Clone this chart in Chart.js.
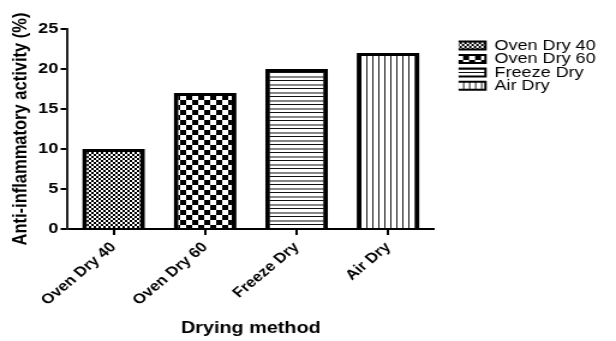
<!DOCTYPE html>
<html><head><meta charset="utf-8">
<script src="https://cdn.jsdelivr.net/npm/chart.js@4/dist/chart.umd.min.js"></script>
<style>
html,body{margin:0;padding:0;background:#fff;overflow:hidden}
#wrap{width:616px;height:341px;overflow:hidden}
#c{transform:scaleX(1.2008);transform-origin:0 0;display:block}
</style>
</head><body><div id="wrap"><canvas id="c" width="513" height="341"></canvas></div>
<script>
const categories = ["Oven Dry 40", "Oven Dry 60", "Freeze Dry", "Air Dry"];
const values = [10, 17, 20, 22];
const yTicks = [0, 5, 10, 15, 20, 25];
const xTitle = "Drying method";
const yTitle = "Anti-inflammatory activity (%)";

const FONT = "'Liberation Sans', Arial, sans-serif";
const LEGEND_GAP = 19;

function makePattern(kind) {
  const t = document.createElement('canvas');
  const g = t.getContext('2d');
  if (kind === 0) {
    t.width = 4; t.height = 4;
    g.fillStyle = '#fff'; g.fillRect(0,0,4,4);
    g.fillStyle = '#000'; g.fillRect(0,0,2,2); g.fillRect(2,2,2,2);
  } else if (kind === 1) {
    t.width = 10; t.height = 10;
    g.fillStyle = '#fff'; g.fillRect(0,0,10,10);
    g.fillStyle = '#000'; g.fillRect(0,0,5,5); g.fillRect(5,5,5,5);
  } else if (kind === 2) {
    t.width = 8; t.height = 8;
    g.fillStyle = '#fff'; g.fillRect(0,0,8,8);
    g.fillStyle = '#111'; g.fillRect(0,0,8,1);
    g.fillStyle = '#888'; g.fillRect(0,4,8,2);
  } else {
    t.width = 5; t.height = 5;
    g.fillStyle = '#fff'; g.fillRect(0,0,5,5);
    g.fillStyle = '#222'; g.fillRect(0,0,1,5);
  }
  return document.getElementById('c').getContext('2d').createPattern(t, 'repeat');
}
const patterns = categories.map((_, i) => makePattern(i));

// Give the legend a gap from the plot area and let it take its natural width
const legendGapPlugin = {
  id: 'legendGap',
  beforeLayout(chart) {
    const lg = chart.legend;
    if (!lg || lg._gapPatched) return;
    lg._gapPatched = true;
    const origFit = lg.fit.bind(lg);
    lg.fit = function () {
      origFit();
      const ctx = this.ctx;
      const f = this.options.labels.font;
      ctx.save();
      ctx.font = `${f.size}px ${f.family}`;
      const tw = Math.max(...this.legendItems.map(it => ctx.measureText(it.text).width));
      ctx.restore();
      this.width = LEGEND_GAP + this.options.labels.boxWidth + f.size / 2 + tw + 2;
    };
    const origDraw = lg.draw.bind(lg);
    lg.draw = function (area) {
      const ctx = this.ctx;
      ctx.save();
      ctx.translate(LEGEND_GAP - this.options.labels.padding, 0);
      origDraw(area);
      ctx.restore();
    };
  }
};

new Chart(document.getElementById('c'), {
  type: 'bar',
  data: {
    labels: categories,
    datasets: [{
      data: values,
      backgroundColor: patterns,
      borderColor: '#000',
      borderWidth: { top: 3, left: 4, right: 4, bottom: 0 },
      borderSkipped: false,
      barPercentage: 0.686,
      categoryPercentage: 1.0
    }]
  },
  plugins: [legendGapPlugin],
  options: {
    responsive: false,
    animation: false,
    layout: { padding: { left: 6, right: 15, top: 29, bottom: 1 } },
    plugins: {
      tooltip: { enabled: false },
      legend: {
        position: 'right',
        align: 'start',
        title: { display: true, text: ' ', font: { size: 8.9 }, padding: 0 },
        labels: {
          font: { family: FONT, size: 15 },
          color: '#000',
          boxWidth: 24,
          boxHeight: 8,
          padding: -1.6,
          generateLabels: () => categories.map((c, i) => ({
            text: c, fillStyle: patterns[i], strokeStyle: '#000', fontColor: '#000', lineWidth: 2, hidden: false, index: i
          }))
        }
      }
    },
    scales: {
      x: {
        grid: { display: true, offset: false, drawOnChartArea: false, drawTicks: true, tickLength: 6, color: '#000', lineWidth: 2 },
        border: { display: true, color: '#000', width: 2 },
        ticks: { color: '#000', maxRotation: 45, minRotation: 45, font: { family: FONT, size: 14, weight: 'bold' }, padding: 4 },
        title: { display: true, text: xTitle, color: '#000', font: { family: FONT, size: 16.5, weight: 'bold' }, padding: { top: 5.5, bottom: 2 } }
      },
      y: {
        min: 0, max: 25,
        afterBuildTicks: (ax) => { ax.ticks = yTicks.map(v => ({ value: v })); },
        grid: { display: true, drawOnChartArea: false, drawTicks: true, tickLength: 6, color: '#000', lineWidth: 2 },
        border: { display: true, color: '#222', width: 2 },
        ticks: { color: '#000', font: { family: FONT, size: 15, weight: 'bold' }, padding: 2 },
        title: { display: true, text: yTitle, color: '#000', font: { family: FONT, size: 16.5, weight: 'bold' }, padding: { top: 2, bottom: 2 } }
      }
    }
  }
});
</script>
</body></html>
